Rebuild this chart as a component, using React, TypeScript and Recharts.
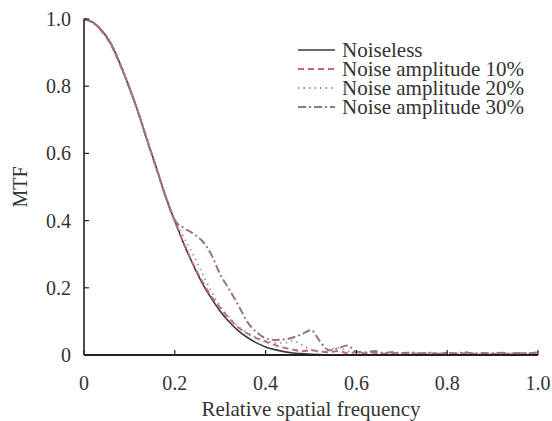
import { LineChart, Line, XAxis, YAxis } from "recharts";

// ---------------------------------------------------
// DATA (step 0.02)
// ---------------------------------------------------
const freq = [
  0, 0.02, 0.04, 0.06, 0.08, 0.1, 0.12, 0.14, 0.16, 0.18, 0.2, 0.22, 0.24,
  0.26, 0.28, 0.3, 0.32, 0.34, 0.36, 0.38, 0.4, 0.42, 0.44, 0.46, 0.48, 0.5,
  0.52, 0.54, 0.56, 0.58, 0.6, 0.62, 0.64, 0.66, 0.68, 0.7, 0.72, 0.74, 0.76,
  0.78, 0.8, 0.82, 0.84, 0.86, 0.88, 0.9, 0.92, 0.94, 0.96, 0.98, 1.0,
];

const noiseless = [
  1.0, 0.99, 0.965, 0.925, 0.865, 0.795, 0.72, 0.635, 0.555, 0.47, 0.4, 0.33,
  0.27, 0.215, 0.17, 0.13, 0.098, 0.072, 0.052, 0.036, 0.024, 0.016, 0.01,
  0.006, 0.004, 0.002, 0.001, 0, 0, 0, 0, 0, 0, 0, 0, 0, 0, 0, 0, 0, 0, 0, 0,
  0, 0, 0, 0, 0, 0, 0, 0,
];

const noise10 = [
  1.0, 0.99, 0.962, 0.922, 0.862, 0.795, 0.718, 0.638, 0.552, 0.472, 0.398,
  0.332, 0.272, 0.22, 0.175, 0.14, 0.108, 0.082, 0.064, 0.05, 0.04, 0.03,
  0.022, 0.016, 0.012, 0.014, 0.01, 0.008, 0.012, 0.006, 0.008, 0.005, 0.007,
  0.004, 0.006, 0.004, 0.006, 0.003, 0.005, 0.004, 0.006, 0.003, 0.005, 0.004,
  0.006, 0.003, 0.005, 0.004, 0.006, 0.004, 0.007,
];

const noise20 = [
  1.0, 0.99, 0.966, 0.926, 0.866, 0.797, 0.72, 0.636, 0.556, 0.472, 0.405,
  0.35, 0.3, 0.245, 0.19, 0.145, 0.112, 0.085, 0.066, 0.052, 0.042, 0.036,
  0.036, 0.042, 0.03, 0.016, 0.01, 0.016, 0.022, 0.012, 0.008, 0.006, 0.01,
  0.005, 0.007, 0.004, 0.006, 0.004, 0.007, 0.003, 0.005, 0.004, 0.006, 0.003,
  0.005, 0.004, 0.006, 0.003, 0.005, 0.004, 0.005,
];

const noise30 = [
  1.0, 0.988, 0.963, 0.924, 0.864, 0.796, 0.72, 0.634, 0.554, 0.47, 0.4, 0.378,
  0.362, 0.34, 0.3, 0.24, 0.195, 0.148, 0.098, 0.068, 0.05, 0.045, 0.046,
  0.052, 0.062, 0.074, 0.04, 0.014, 0.02, 0.028, 0.01, 0.008, 0.012, 0.006,
  0.009, 0.005, 0.008, 0.005, 0.007, 0.004, 0.006, 0.005, 0.008, 0.004, 0.006,
  0.005, 0.007, 0.004, 0.006, 0.005, 0.008,
];

const axisTicks = [0, 0.2, 0.4, 0.6, 0.8, 1.0];

const data = freq.map((f, i) => ({
  f,
  s0: noiseless[i],
  s10: noise10[i],
  s20: noise20[i],
  s30: noise30[i],
}));

const series = [
  { key: "s0", name: "Noiseless", color: "#3a3a3a", dash: undefined, width: 1.6 },
  { key: "s10", name: "Noise amplitude 10%", color: "#c4647e", dash: "6 4", width: 2 },
  { key: "s20", name: "Noise amplitude 20%", color: "#8e9c9c", dash: "1.5 4", width: 1.8 },
  { key: "s30", name: "Noise amplitude 30%", color: "#9a7090", dash: "8 3 2 3", width: 2 },
];

const FONT = '"Liberation Serif", "Times New Roman", serif';
const textStyle = { fontFamily: FONT, fontSize: 20, fill: "#333" };
const fmt = (v: number) => (v === 0 ? "0" : v.toFixed(1));

// ---------------------------------------------------
// TICKS (inward tick marks)
// ---------------------------------------------------
function XTick({ x, y, payload }: any) {
  return (
    <g>
      <line x1={x} x2={x} y1={y} y2={y - 5} stroke="#222" strokeWidth={1.2} />
      <text
        x={x}
        y={y + 28}
        textAnchor="middle"
        dominantBaseline="central"
        style={textStyle}
      >
        {fmt(payload.value)}
      </text>
    </g>
  );
}

function YTick({ x, y, payload }: any) {
  return (
    <g>
      <line x1={x} x2={x + 5} y1={y} y2={y} stroke="#222" strokeWidth={1.2} />
      <text
        x={x - 13}
        y={y}
        textAnchor="end"
        dominantBaseline="central"
        style={textStyle}
      >
        {fmt(payload.value)}
      </text>
    </g>
  );
}

// ---------------------------------------------------
// LEGEND (overlay)
// ---------------------------------------------------
function ChartLegend() {
  return (
    <svg
      width={250}
      height={110}
      style={{ position: "absolute", left: 298, top: 25 }}
    >
      {series.map((s, i) => (
        <g key={s.key} transform={`translate(0, ${25 + i * 19})`}>
          <line
            x1={0}
            x2={37}
            y1={0}
            y2={0}
            stroke={s.color}
            strokeWidth={s.width}
            strokeDasharray={s.dash}
          />
          <text
            x={44}
            y={0}
            dominantBaseline="central"
            style={{ ...textStyle, fontSize: 21 }}
          >
            {s.name}
          </text>
        </g>
      ))}
    </svg>
  );
}

// ---------------------------------------------------
// MAIN COMPONENT
// ---------------------------------------------------
export default function App() {
  return (
    <div
      style={{
        position: "absolute",
        left: 0,
        top: 0,
        width: 552,
        height: 421,
        background: "#fff",
      }}
    >
      <LineChart
        width={552}
        height={421}
        data={data}
        margin={{ top: 19, right: 14, left: 0, bottom: 0 }}
      >
        <XAxis
          dataKey="f"
          type="number"
          domain={[0, 1]}
          ticks={axisTicks}
          tickSize={0}
          tickMargin={0}
          tickLine={false}
          axisLine={{ stroke: "#222", strokeWidth: 2 }}
          tick={<XTick />}
          height={66}
          label={{
            value: "Relative spatial frequency",
            position: "insideBottom",
            offset: 5,
            style: { ...textStyle, fontSize: 21 },
          }}
        />
        <XAxis
          xAxisId="top"
          orientation="top"
          dataKey="f"
          type="number"
          domain={[0, 1]}
          tick={false}
          tickLine={false}
          height={0}
          axisLine={{ stroke: "#555", strokeWidth: 2 }}
        />
        <YAxis
          type="number"
          domain={[0, 1]}
          ticks={axisTicks}
          tickSize={0}
          tickMargin={0}
          tickLine={false}
          axisLine={{ stroke: "#222", strokeWidth: 1.6 }}
          tick={<YTick />}
          width={84}
          label={{
            value: "MTF",
            angle: -90,
            position: "insideLeft",
            offset: 20,
            style: { ...textStyle, textAnchor: "middle" },
          }}
        />
        <YAxis
          yAxisId="right"
          orientation="right"
          type="number"
          domain={[0, 1]}
          tick={false}
          tickLine={false}
          width={0}
          axisLine={{ stroke: "#555", strokeWidth: 2 }}
        />
        {series.map((s) => (
          <Line
            key={s.key}
            dataKey={s.key}
            name={s.name}
            type="monotone"
            stroke={s.color}
            strokeWidth={s.width}
            strokeDasharray={s.dash}
            dot={false}
            isAnimationActive={false}
          />
        ))}
      </LineChart>
      <ChartLegend />
    </div>
  );
}
